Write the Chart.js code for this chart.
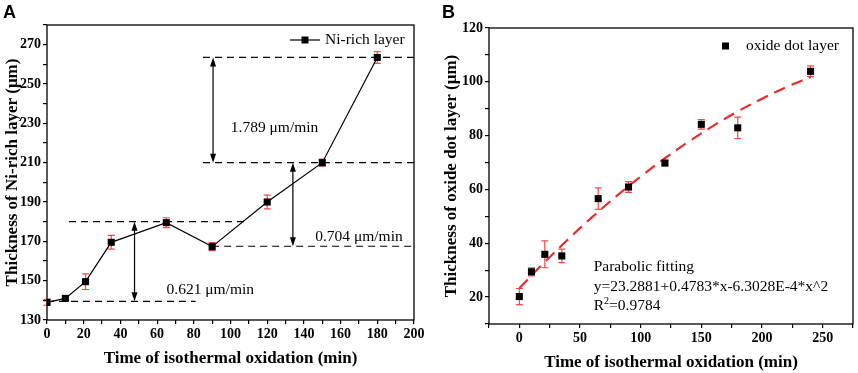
<!DOCTYPE html>
<html>
<head>
<meta charset="utf-8">
<script src="https://cdn.jsdelivr.net/npm/chart.js@4.4.1/dist/chart.umd.min.js"></script>
<style>
  html, body { margin: 0; padding: 0; background: #fff; }
  #wrap { position: relative; width: 858px; height: 373px; }
  canvas { position: absolute; top: 0; }
  #chartA { left: 0; }
  #chartB { left: 430px; }
</style>
</head>
<body>
<div id="wrap">
  <canvas id="chartA" width="430" height="373"></canvas>
  <canvas id="chartB" width="428" height="373"></canvas>
</div>
<script>
// panel A - Ni-rich layer
const timeA = [0, 10, 21, 35, 65, 90, 120, 150, 180];
const niRich = [139, 141, 149.5, 169.5, 179.5, 167.3, 190, 210, 263.5];
const niRichErr = [1.5, 1, 4, 3.5, 2.5, 2, 3.5, 1.8, 3];

// dashed guide lines (y level, from x, to x)
const guideY = [263.5, 210, 180, 139.5, 167.5];
const guideFrom = [85, 85, 12, 0, 90];
const guideTo = [200, 200, 109, 81, 200];

// double arrows (x, from y, to y)
const arrowX = [90.5, 47.7, 134];
const arrowFrom = [263.5, 180, 210];
const arrowTo = [210, 139.5, 167.5];

const rateLabels = ["1.789 μm/min", "0.621 μm/min", "0.704 μm/min"];
const rateX = [124, 89, 170];
const rateY = [227.5, 145.3, 172];

// panel B - oxide dot layer
const timeB = [0, 10, 21, 35, 65, 90, 120, 150, 180, 240];
const oxideDot = [20.2, 29.4, 35.9, 35.3, 56.6, 60.9, 69.8, 84.2, 82.9, 103.9];
const oxideDotErr = [3, 1.5, 5, 2.5, 4, 2, 1, 1.8, 4, 2];

// parabolic fit curve
const fitX = [0, 20, 40, 60, 80, 100, 120, 140, 160, 180, 200, 220, 240];
const fitY = [23.3, 32.6, 41.4, 49.7, 57.5, 64.8, 71.6, 77.9, 83.7, 89.0, 93.7, 98.0, 101.8];

const fitLines = ["Parabolic fitting", "y=23.2881+0.4783*x-6.3028E-4*x^2", "R2=0.9784"];

const SERIF = "'Liberation Serif', 'Times New Roman', serif";
const ERR_RED = "#f24a4a";

Chart.defaults.font.family = SERIF;
Chart.defaults.color = "#000";

function pts(xs, ys) {
  return xs.map((x, i) => ({ x: x, y: ys[i] }));
}

function errorBars(xs, ys, errs) {
  return {
    id: "errorBars",
    beforeDatasetsDraw(chart) {
      const { ctx, scales: { x, y } } = chart;
      ctx.save();
      ctx.strokeStyle = ERR_RED;
      ctx.lineWidth = 1.2;
      xs.forEach((v, i) => {
        const px = x.getPixelForValue(v);
        const top = y.getPixelForValue(ys[i] + errs[i]);
        const bot = y.getPixelForValue(ys[i] - errs[i]);
        ctx.beginPath();
        ctx.moveTo(px, top); ctx.lineTo(px, bot);
        ctx.moveTo(px - 3.5, top); ctx.lineTo(px + 3.5, top);
        ctx.moveTo(px - 3.5, bot); ctx.lineTo(px + 3.5, bot);
        ctx.stroke();
      });
      ctx.restore();
    }
  };
}

function panelLabel(txt, lx) {
  return {
    id: "panelLabel",
    afterDraw(chart) {
      const ctx = chart.ctx;
      ctx.save();
      ctx.font = "bold 18px 'Liberation Sans', Arial, sans-serif";
      ctx.fillStyle = "#000";
      ctx.textBaseline = "top";
      ctx.fillText(txt, lx, 4);
      ctx.restore();
    }
  };
}

const frame = {
  id: "frame",
  afterDraw(chart) {
    const { ctx, chartArea: a } = chart;
    ctx.save();
    ctx.strokeStyle = "#000";
    ctx.lineWidth = 1.3;
    ctx.strokeRect(a.left, a.top, a.right - a.left, a.bottom - a.top);
    ctx.restore();
  }
};

function arrowHead(ctx, x, y, dir) {
  ctx.beginPath();
  ctx.moveTo(x, y);
  ctx.lineTo(x - 3, y - dir * 9);
  ctx.lineTo(x + 3, y - dir * 9);
  ctx.closePath();
  ctx.fill();
}

const annotationsA = {
  id: "annotationsA",
  afterDatasetsDraw(chart) {
    const { ctx, scales: { x, y }, chartArea: a } = chart;
    ctx.save();
    ctx.strokeStyle = "#000";
    ctx.fillStyle = "#000";
    ctx.lineWidth = 1.2;
    arrowX.forEach((v, i) => {
      const px = x.getPixelForValue(v);
      const y0 = y.getPixelForValue(arrowFrom[i]);
      const y1 = y.getPixelForValue(arrowTo[i]);
      ctx.beginPath();
      ctx.moveTo(px, y0 + 4); ctx.lineTo(px, y1 - 4);
      ctx.stroke();
      arrowHead(ctx, px, y0, -1);
      arrowHead(ctx, px, y1, 1);
    });
    ctx.font = "15.5px " + SERIF;
    ctx.textAlign = "center";
    ctx.textBaseline = "middle";
    rateLabels.forEach((t, i) => {
      ctx.fillText(t, x.getPixelForValue(rateX[i]), y.getPixelForValue(rateY[i]));
    });
    // legend
    const ly = a.top + 15;
    const lx = a.right - 124;
    ctx.beginPath();
    ctx.moveTo(lx, ly); ctx.lineTo(lx + 30, ly);
    ctx.stroke();
    ctx.fillRect(lx + 15 - 3.5, ly - 3.5, 7, 7);
    ctx.textAlign = "left";
    ctx.fillText("Ni-rich layer", lx + 35, ly);
    ctx.restore();
  }
};

const annotationsB = {
  id: "annotationsB",
  afterDatasetsDraw(chart) {
    const { ctx, scales: { x, y }, chartArea: a } = chart;
    ctx.save();
    ctx.fillStyle = "#000";
    ctx.font = "15.5px " + SERIF;
    ctx.textBaseline = "middle";
    ctx.textAlign = "left";
    const tx = x.getPixelForValue(61.3);
    ctx.fillText(fitLines[0], tx, y.getPixelForValue(31.1));
    ctx.fillText(fitLines[1], tx, y.getPixelForValue(23.9));
    const ry = y.getPixelForValue(16.7);
    ctx.fillText("R", tx, ry);
    const rw = ctx.measureText("R").width;
    ctx.font = "10px " + SERIF;
    ctx.fillText("2", tx + rw, ry - 5);
    const sw = ctx.measureText("2").width;
    ctx.font = "15.5px " + SERIF;
    ctx.fillText("=0.9784", tx + rw + sw, ry);
    // legend
    const ly = a.top + 18;
    ctx.fillRect(a.right - 127.5 - 3.5, ly - 3.5, 7, 7);
    ctx.fillText("oxide dot layer", a.right - 107, ly);
    ctx.restore();
  }
};

function tickFont() {
  return { family: SERIF, size: 14, weight: "bold" };
}

const guideSets = guideY.map((gy, i) => ({
  data: [{ x: guideFrom[i], y: gy }, { x: guideTo[i], y: gy }],
  showLine: true,
  borderColor: "#000",
  borderWidth: 1.2,
  borderDash: [7, 5],
  pointRadius: 0
}));

new Chart(document.getElementById("chartA"), {
  type: "scatter",
  data: {
    datasets: [{
      label: "Ni-rich layer",
      data: pts(timeA, niRich),
      showLine: true,
      borderColor: "#000",
      borderWidth: 1.2,
      pointStyle: "rect",
      pointRadius: 5,
      backgroundColor: "#000",
      pointBorderWidth: 0
    }].concat(guideSets)
  },
  options: {
    responsive: false,
    animation: false,
    layout: { padding: { left: 0, right: 16, top: 25, bottom: 0 } },
    plugins: { legend: { display: false }, tooltip: { enabled: false } },
    scales: {
      x: {
        type: "linear",
        min: 0, max: 200,
        afterFit(s) { s.height = 53; },
        border: { display: false },
        grid: { drawOnChartArea: false, color: "#000", lineWidth: 1.2, tickLength: 4 },
        ticks: {
          stepSize: 10, autoSkip: false, maxRotation: 0, padding: 2, font: tickFont(),
          callback: v => (v % 20 === 0 ? v : "")
        },
        title: {
          display: true, text: "Time of isothermal oxidation (min)",
          font: { family: SERIF, size: 17, weight: "bold" }, padding: { top: 0, bottom: 4 }
        }
      },
      y: {
        min: 130, max: 280,
        afterFit(s) { s.width = 47; },
        border: { display: false },
        grid: { drawOnChartArea: false, color: "#000", lineWidth: 1.2, tickLength: 4 },
        ticks: {
          stepSize: 10, autoSkip: false, padding: 2, font: tickFont(),
          callback: v => ((v - 130) % 20 === 0 ? v : "")
        },
        title: {
          display: true, text: "Thickness of Ni-rich layer (μm)",
          font: { family: SERIF, size: 17, weight: "bold" }, padding: { top: 2, bottom: 0 }
        }
      }
    }
  },
  plugins: [errorBars(timeA, niRich, niRichErr), annotationsA, frame, panelLabel("A", 3)]
});

new Chart(document.getElementById("chartB"), {
  type: "scatter",
  data: {
    datasets: [{
      label: "oxide dot layer",
      data: pts(timeB, oxideDot),
      showLine: false,
      pointStyle: "rect",
      pointRadius: 5,
      backgroundColor: "#000",
      pointBorderWidth: 0
    }, {
      label: "fit",
      data: pts(fitX, fitY),
      showLine: true,
      borderColor: "#ec2a2a",
      borderWidth: 2.2,
      borderDash: [12, 7],
      pointRadius: 0,
      tension: 0.4
    }]
  },
  options: {
    responsive: false,
    animation: false,
    layout: { padding: { left: 0, right: 3, top: 28, bottom: 0 } },
    plugins: { legend: { display: false }, tooltip: { enabled: false } },
    scales: {
      x: {
        type: "linear",
        min: -25, max: 275,
        afterFit(s) { s.height = 49; },
        border: { display: false },
        grid: { drawOnChartArea: false, color: "#000", lineWidth: 1.2, tickLength: 4 },
        ticks: {
          stepSize: 25, autoSkip: false, maxRotation: 0, padding: 2, font: tickFont(),
          callback: v => (v % 50 === 0 && v >= 0 && v <= 250 ? v : "")
        },
        title: {
          display: true, text: "Time of isothermal oxidation (min)",
          font: { family: SERIF, size: 17, weight: "bold" }, padding: { top: 0, bottom: 0 }
        }
      },
      y: {
        min: 10, max: 120,
        afterFit(s) { s.width = 59; },
        border: { display: false },
        grid: { drawOnChartArea: false, color: "#000", lineWidth: 1.2, tickLength: 4 },
        ticks: {
          stepSize: 10, autoSkip: false, padding: 2, font: tickFont(),
          callback: v => (v % 20 === 0 ? v : "")
        },
        title: {
          display: true, text: "Thickness of oxide dot layer (μm)",
          font: { family: SERIF, size: 17, weight: "bold" }, padding: { top: 11, bottom: 0 }
        }
      }
    }
  },
  plugins: [errorBars(timeB, oxideDot, oxideDotErr), annotationsB, frame, panelLabel("B", 12)]
});
</script>
</body>
</html>
